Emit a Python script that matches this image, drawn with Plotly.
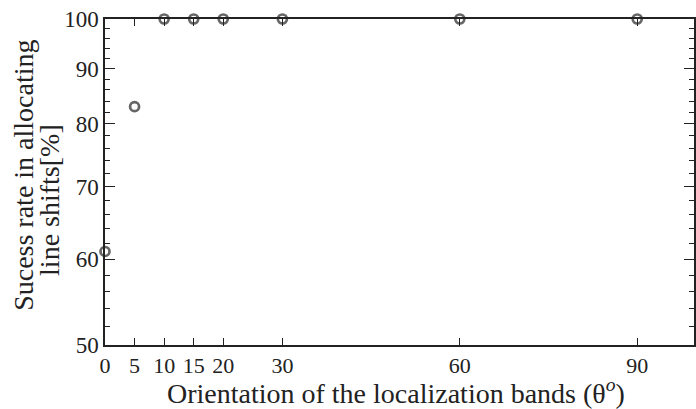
import plotly.graph_objects as go

angles = [0, 5, 10, 15, 20, 30, 60, 90]
success = [61, 83, 100, 100, 100, 100, 100, 100]
x_ticks = [0, 5, 10, 15, 20, 30, 60, 90]
y_ticks = [50, 60, 70, 80, 90, 100]
y_minor = [v for v in range(52, 100, 2) if v not in y_ticks]
x_title = "Orientation of the localization bands (θ<sup><i>o</i></sup>)"
y_title_lines = ["Sucess rate in allocating", "line shifts[%]"]

font_family = "Liberation Serif, Times New Roman, serif"
axis_color = "#222222"
text_color = "#222222"

fig = go.Figure()
fig.add_trace(go.Scatter(
    x=angles, y=success, mode="markers",
    marker=dict(symbol="circle-open", size=9, color="#666666",
                line=dict(width=2.7, color="#666666")),
    cliponaxis=False, showlegend=False,
))

fig.update_layout(
    width=696, height=409,
    margin=dict(l=105, r=0, t=19, b=64),
    paper_bgcolor="white", plot_bgcolor="white",
    font=dict(family=font_family, size=22, color=text_color),
    xaxis=dict(
        range=[0, 99.6], tickmode="array", tickvals=x_ticks,
        ticktext=[str(v) for v in x_ticks],
        ticks="inside", ticklen=7, tickwidth=1.2, tickcolor=axis_color,
        showline=True, linecolor=axis_color, linewidth=1.5, mirror="ticks",
        showgrid=False, zeroline=False,
        tickfont=dict(size=22),
    ),
    yaxis=dict(
        type="log", range=[1.69897, 2.0],
        tickmode="array", tickvals=y_ticks, ticktext=[str(v) for v in y_ticks],
        ticks="inside", ticklen=10, tickwidth=1.2, tickcolor=axis_color,
        showline=True, linecolor=axis_color, linewidth=1.5, mirror="ticks",
        showgrid=False, zeroline=False,
        tickfont=dict(size=23),
        minor=dict(tickmode="array", tickvals=y_minor, ticks="inside",
                   ticklen=5, tickwidth=1, tickcolor=axis_color, showgrid=False),
    ),
)

# axis titles as annotations for precise placement
fig.add_annotation(text=x_title, xref="paper", yref="paper", x=0.494, y=-0.144,
                   xanchor="center", yanchor="middle", showarrow=False,
                   font=dict(size=28, family=font_family, color=text_color))
fig.add_annotation(text=y_title_lines[0], xref="paper", yref="paper", x=-0.1397, y=0.521,
                   xanchor="center", yanchor="middle", textangle=-90, showarrow=False,
                   font=dict(size=28, family=font_family, color=text_color))
fig.add_annotation(text=y_title_lines[1], xref="paper", yref="paper", x=-0.0934, y=0.445,
                   xanchor="center", yanchor="middle", textangle=-90, showarrow=False,
                   font=dict(size=28, family=font_family, color=text_color))

fig.write_html("out.html")
